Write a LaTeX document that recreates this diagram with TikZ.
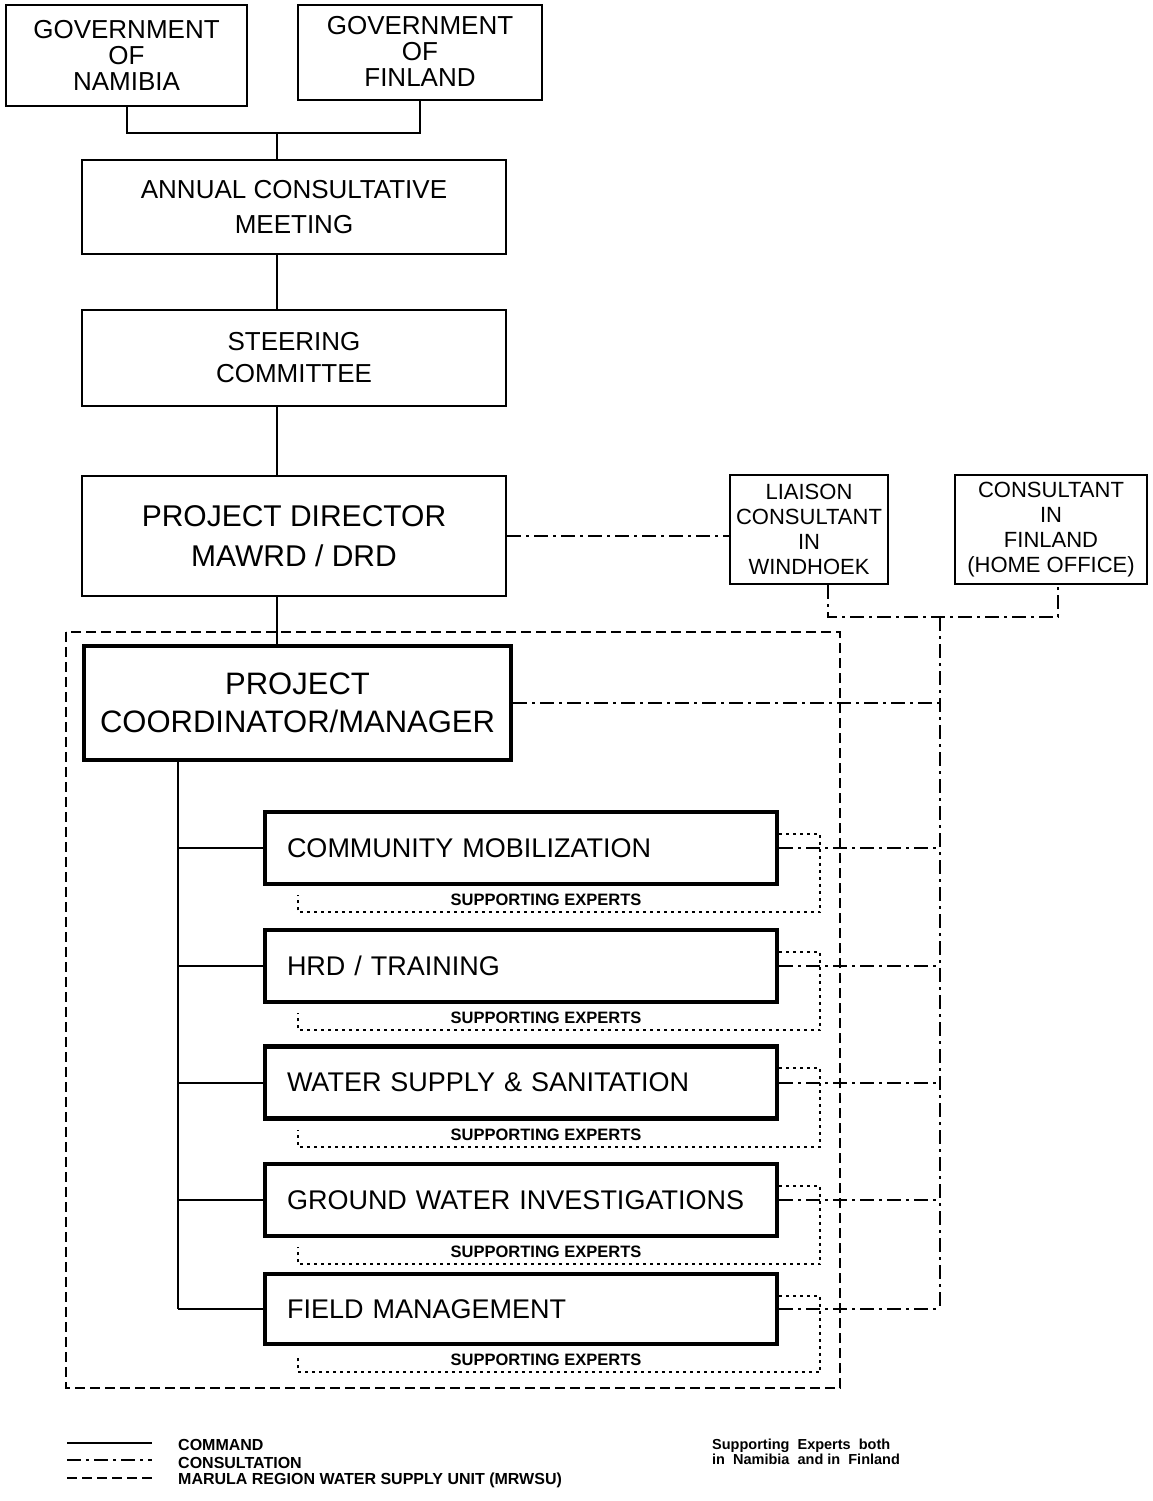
\documentclass[tikz,border=0pt]{standalone}
\usepackage{fontspec}
\setmainfont{Liberation Sans}
\usetikzlibrary{positioning}

\begin{document}
\begin{tikzpicture}[x=1pt, y=-1pt,
    box/.style={rectangle, draw, line width=2pt, align=center, inner sep=0pt, font=\fontsize{26}{26}\selectfont},
    bigbox/.style={box, font=\fontsize{30}{40}\selectfont},
    smallbox/.style={box, font=\fontsize{22}{25}\selectfont},
    unitbox/.style={rectangle, draw, line width=4.5pt, minimum width=512pt, minimum height=72pt, text width=468pt, inner xsep=22pt, align=left, font=\fontsize{27}{30}\selectfont},
    suplabel/.style={inner sep=0pt, font=\fontsize{16.5}{18}\bfseries\selectfont},
    legend/.style={inner sep=0pt, anchor=west, font=\fontsize{16}{16}\bfseries\selectfont},
    cmd/.style={line width=2pt},
    consult/.style={line width=2pt, dash pattern=on 14pt off 5pt on 3pt off 5pt},
    mrwsu/.style={line width=2pt, dash pattern=on 10pt off 5pt},
    support/.style={line width=2pt, dash pattern=on 3pt off 4pt}
]
    \useasboundingbox (0,0) rectangle (1152,1501);

    % top of the hierarchy
    \node[box, minimum width=241pt, minimum height=101pt] (namibia) at (126.5,55.5) {GOVERNMENT\\OF\\NAMIBIA};
    \node[box, minimum width=244pt, minimum height=95pt, text depth=3pt] (finland) at (420,52.5) {GOVERNMENT\\OF\\FINLAND};
    \node[box, minimum width=424pt, minimum height=94pt, font=\fontsize{26}{35}\selectfont] (annual) at (294,207) {ANNUAL CONSULTATIVE\\MEETING};
    \node[box, minimum width=424pt, minimum height=96pt, font=\fontsize{26}{32}\selectfont] (steering) at (294,358) {STEERING\\COMMITTEE};
    \node[bigbox, minimum width=424pt, minimum height=120pt] (director) at (294,536) {PROJECT DIRECTOR\\MAWRD / DRD};
    \node[smallbox, minimum width=158pt, minimum height=109pt] (liaison) at (809,529.5) {LIAISON\\CONSULTANT\\IN\\WINDHOEK};
    \node[smallbox, minimum width=192pt, minimum height=109pt] (homeoffice) at (1051,529.5) {CONSULTANT\\IN\\FINLAND\\(HOME OFFICE)};

    \coordinate (govjoin) at (277,133);
    \coordinate (cjoin) at (940,617);
    \coordinate (trunk) at (178,0);

    \draw[cmd] (namibia.south) |- (govjoin) -| (finland.south);
    \draw[cmd] (govjoin) -- (govjoin |- annual.north);
    \draw[cmd] (annual.south -| govjoin) -- (steering.north -| govjoin);
    \draw[cmd] (steering.south -| govjoin) -- (director.north -| govjoin);

    \draw[consult] (director.east) -- (director.east -| liaison.west);
    \draw[consult] ([xshift=19pt]liaison.south) |- (cjoin) -| ([xshift=7pt]homeoffice.south);

    % MRWSU
    \draw[mrwsu] (66,632) rectangle (840,1388);

    \node[box, line width=4.5pt, minimum width=427pt, minimum height=114pt, font=\fontsize{31}{38}\selectfont] (coordinator) at (297.5,703) {PROJECT\\COORDINATOR/MANAGER};
    \draw[cmd] (director.south -| govjoin) -- (coordinator.north -| govjoin);
    \draw[consult] (coordinator.east) -- (coordinator.east -| cjoin);

    \node[unitbox] (community) at (521,848) {COMMUNITY MOBILIZATION};
    \node[unitbox] (training) at (521,966) {HRD / TRAINING};
    \node[unitbox] (watersupply) at (521,1082.5) {WATER SUPPLY \& SANITATION};
    \node[unitbox] (groundwater) at (521,1200) {GROUND WATER INVESTIGATIONS};
    \node[unitbox, minimum height=70pt] (field) at (521,1309) {FIELD MANAGEMENT};

    \draw[consult] (cjoin) -- (cjoin |- field.east);

    % command lines
    \draw[cmd] (coordinator.south -| trunk) -- (field.west -| trunk);
    \draw[cmd] (community.west -| trunk) -- (community.west);
    \draw[cmd] (training.west -| trunk) -- (training.west);
    \draw[cmd] (watersupply.west -| trunk) -- (watersupply.west);
    \draw[cmd] (groundwater.west -| trunk) -- (groundwater.west);
    \draw[cmd] (field.west -| trunk) -- (field.west);

    % consultation lines
    \draw[consult] (community.east) -- (community.east -| cjoin);
    \draw[consult] (training.east) -- (training.east -| cjoin);
    \draw[consult] (watersupply.east) -- (watersupply.east -| cjoin);
    \draw[consult] (groundwater.east) -- (groundwater.east -| cjoin);
    \draw[consult] (field.east) -- (field.east -| cjoin);

    % supporting experts
    \node[suplabel, below=8pt of community, xshift=25pt] (communitysup) {SUPPORTING EXPERTS};
    \node[suplabel, below=8pt of training, xshift=25pt] (trainingsup) {SUPPORTING EXPERTS};
    \node[suplabel, below=8pt of watersupply, xshift=25pt] (watersupplysup) {SUPPORTING EXPERTS};
    \node[suplabel, below=8pt of groundwater, xshift=25pt] (groundwatersup) {SUPPORTING EXPERTS};
    \node[suplabel, below=8pt of field, xshift=25pt] (fieldsup) {SUPPORTING EXPERTS};

    \draw[support] ([yshift=-24pt]community.north east) -- ++(41,0) |- ([xshift=35pt,yshift=-26pt]community.south west) -- ++(0,-17);
    \draw[support] ([yshift=-24pt]training.north east) -- ++(41,0) |- ([xshift=35pt,yshift=-26pt]training.south west) -- ++(0,-17);
    \draw[support] ([yshift=-24pt]watersupply.north east) -- ++(41,0) |- ([xshift=35pt,yshift=-26pt]watersupply.south west) -- ++(0,-17);
    \draw[support] ([yshift=-24pt]groundwater.north east) -- ++(41,0) |- ([xshift=35pt,yshift=-26pt]groundwater.south west) -- ++(0,-17);
    \draw[support] ([yshift=-24pt]field.north east) -- ++(41,0) |- ([xshift=35pt,yshift=-26pt]field.south west) -- ++(0,-17);

    % legend
    \node[legend] (lcommand) at (178,1445) {COMMAND};
    \node[legend] (lconsult) at (178,1463) {CONSULTATION};
    \node[legend] (lmrwsu) at (178,1480) {MARULA REGION WATER SUPPLY UNIT (MRWSU)};
    \draw[cmd] (67,1443) -- (152,1443);
    \draw[consult] (67,1460) -- (152,1460);
    \draw[mrwsu] (67,1478) -- (152,1478);
    \node[legend, align=left, font=\fontsize{14.5}{15}\bfseries\selectfont] (lnote) at (712,1452) {Supporting\ \ Experts\ \ both\\in\ \ Namibia\ \ and in\ \ Finland};
\end{tikzpicture}
\end{document}
